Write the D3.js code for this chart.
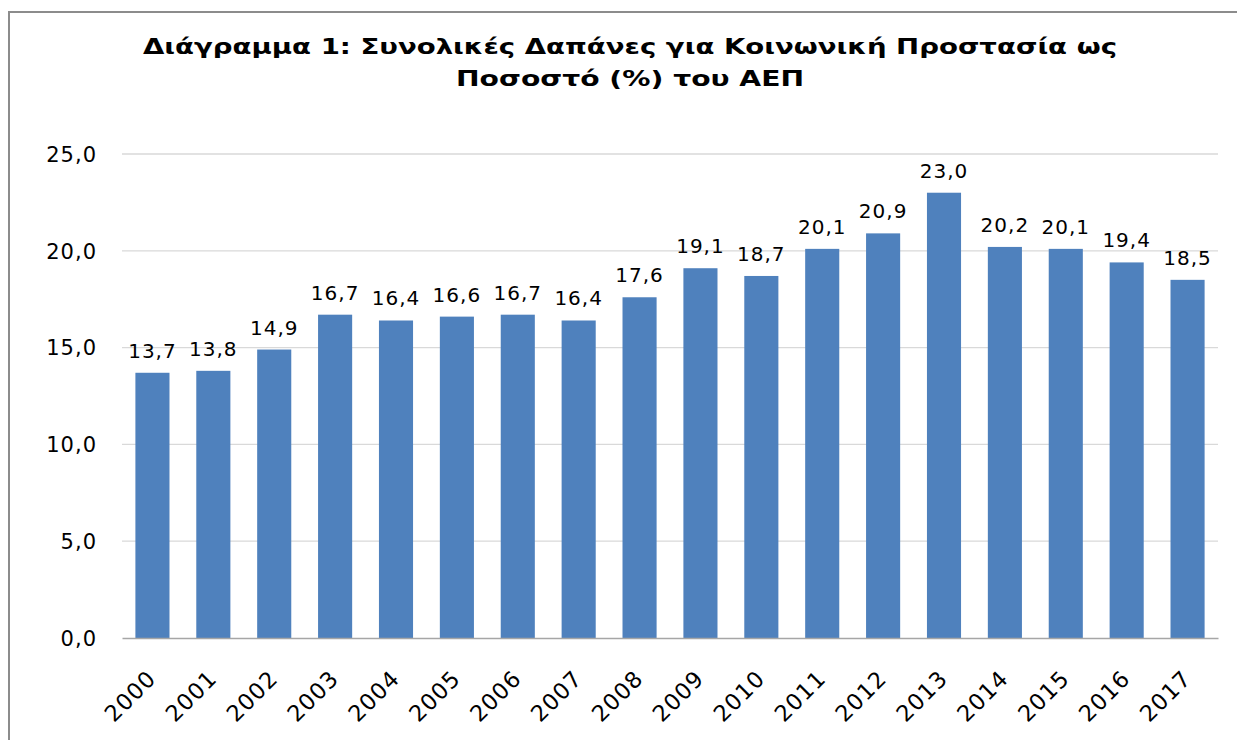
<!DOCTYPE html>
<html>
<head>
<meta charset="utf-8">
<script src="https://cdn.jsdelivr.net/npm/d3@7"></script>
<style>
  body { margin: 0; background: #fff; }
  svg { display: block; }
</style>
</head>
<body>
<svg id="chart" width="1237" height="740"></svg>
<script>
const years = ["2000","2001","2002","2003","2004","2005","2006","2007","2008","2009","2010","2011","2012","2013","2014","2015","2016","2017"];
const values = [13.7,13.8,14.9,16.7,16.4,16.6,16.7,16.4,17.6,19.1,18.7,20.1,20.9,23.0,20.2,20.1,19.4,18.5];
const yTicks = [0,5,10,15,20,25];
const titleLines = ["Διάγραμμα 1: Συνολικές Δαπάνες για Κοινωνική Προστασία ως", "Ποσοστό (%) του ΑΕΠ"];
const titleWidths = [974, 348];

const svg = d3.select("#chart");
const font = "'DejaVu Sans', Verdana, sans-serif";
const fmt = v => d3.format(".1f")(v).replace(".", ",");

// chart border
svg.append("rect").attr("x", 9).attr("y", 12).attr("width", 1300).attr("height", 800)
  .attr("fill", "#fff").attr("stroke", "#8c8c8c").attr("stroke-width", 2);

const x = d3.scaleBand().domain(years).range([122, 1218]).paddingInner(0.44).paddingOuter(0.22);
const y = d3.scaleLinear().domain([0, 25]).range([638, 154]);

// gridlines
svg.append("g").selectAll("line").data(yTicks.filter(d => d > 0)).join("line")
  .attr("x1", 122).attr("x2", 1218)
  .attr("y1", d => y(d)).attr("y2", d => y(d))
  .attr("stroke", "#d9d9d9").attr("stroke-width", 1.3);

// y axis
const yAxis = svg.append("g").attr("transform", "translate(122,0)")
  .call(d3.axisLeft(y).tickValues(yTicks).tickFormat(fmt).tickSize(0).tickPadding(25));
yAxis.select(".domain").remove();
yAxis.selectAll("text").attr("font-family", font).attr("font-size", 21).attr("fill", "#000")
  .attr("dy", "0.35em").attr("letter-spacing", 1);

// bars
svg.append("g").selectAll("rect").data(years).join("rect")
  .attr("x", d => x(d)).attr("width", x.bandwidth())
  .attr("y", (d, i) => y(values[i])).attr("height", (d, i) => y(0) - y(values[i]))
  .attr("fill", "#4f81bd");

// x axis
const xAxis = svg.append("g").attr("transform", "translate(0,638)")
  .call(d3.axisBottom(x).tickSize(0).tickPadding(0));
xAxis.select(".domain").attr("stroke", "#a6a6a6").attr("stroke-width", 1.5);
xAxis.selectAll("text").attr("font-family", font).attr("font-size", 22.5).attr("fill", "#000")
  .attr("text-anchor", "end").attr("dy", 0).attr("letter-spacing", 1)
  .attr("transform", "translate(5,42) rotate(-45)");

// value labels
svg.append("g").selectAll("text").data(years).join("text")
  .attr("x", d => x(d) + x.bandwidth() / 2)
  .attr("y", (d, i) => y(values[i]) - 15)
  .attr("text-anchor", "middle")
  .attr("font-family", font).attr("font-size", 20).attr("letter-spacing", 1)
  .text((d, i) => fmt(values[i]));

// title
svg.append("g").selectAll("text").data(titleLines).join("text")
  .attr("x", 630).attr("y", (d, i) => 54 + i * 32)
  .attr("text-anchor", "middle")
  .attr("font-family", font).attr("font-weight", "bold").attr("font-size", 22)
  .attr("textLength", (d, i) => titleWidths[i]).attr("lengthAdjust", "spacingAndGlyphs")
  .text(d => d);
</script>
</body>
</html>
